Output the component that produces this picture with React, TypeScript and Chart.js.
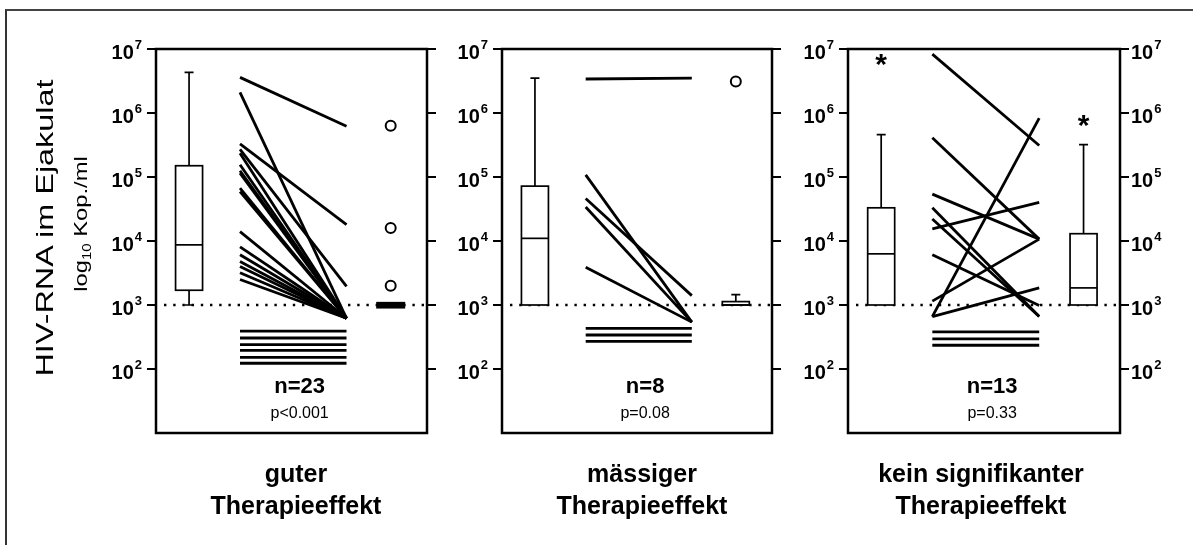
import React, { useEffect, useRef } from "react";
import { Chart, registerables } from "chart.js";

Chart.register(...registerables);

const WIDTH = 1193;
const HEIGHT = 545;

// ---- axis ----
const Y_MIN = 10;
const Y_MAX = 1e7;
const TICK_EXPONENTS = [2, 3, 4, 5, 6, 7];
const DETECTION_LIMIT = 1000;

// ---- texts ----
const Y_TITLE = "HIV-RNA im Ejakulat";
const Y_SUBTITLE_MAIN = "log";
const Y_SUBTITLE_SUB = "10";
const Y_SUBTITLE_REST = " Kop./ml";
const GROUP_LINE1 = ["guter", "mässiger", "kein signifikanter"];
const GROUP_LINE2 = ["Therapieeffekt", "Therapieeffekt", "Therapieeffekt"];
const N_LABELS = ["n=23", "n=8", "n=13"];
const P_LABELS = ["p<0.001", "p=0.08", "p=0.33"];

// ---- panel 1: guter Therapieeffekt (before -> after, copies/ml) ----
const GOOD_BEFORE = [3.6e6, 2.1e6, 3.3e5, 2.7e5, 2.35e5, 1.55e5, 1.25e5, 1.15e5, 6.7e4, 5.9e4, 1.4e4, 8.1e3, 6.1e3, 4.8e3, 4.0e3, 3.2e3, 2.5e3, 390, 305, 240, 195, 152, 123];
const GOOD_AFTER = [6.2e5, 620, 1.8e4, 1.95e3, 620, 620, 620, 620, 620, 620, 620, 620, 620, 620, 620, 620, 620, 390, 305, 240, 195, 152, 123];
// [lower whisker, q1, median, q3, upper whisker]
const GOOD_BOX_BEFORE = [1000, 1700, 8700, 1.5e5, 4.3e6];
const GOOD_BOX_AFTER = [880, 880, 1000, 1120, 1120];
const GOOD_OUTLIERS_AFTER = [6.3e5, 1.6e4, 2.0e3];

// ---- panel 2: mässiger Therapieeffekt ----
const MODERATE_BEFORE = [3.4e6, 1.08e5, 4.6e4, 3.4e4, 3.9e3, 430, 340, 270];
const MODERATE_AFTER = [3.5e6, 540, 1.4e3, 540, 540, 430, 340, 270];
const MODERATE_BOX_BEFORE = [1000, 1000, 1.1e4, 7.2e4, 3.5e6];
const MODERATE_BOX_AFTER = [1000, 1000, 1000, 1130, 1450];
const MODERATE_OUTLIERS_AFTER = [3.1e6];

// ---- panel 3: kein signifikanter Therapieeffekt ----
const NONE_BEFORE = [8.3e6, 4.1e5, 5.4e4, 1.55e4, 3.3e4, 2.2e4, 6.1e3, 1.15e3, 660, 660, 380, 295, 235];
const NONE_AFTER = [3.1e5, 1.07e4, 1.07e4, 4.0e4, 660, 660, 980, 1.07e4, 8.3e5, 1.85e3, 380, 295, 235];
const NONE_BOX_BEFORE = [1000, 1000, 6.3e3, 3.3e4, 4.6e5];
const NONE_BOX_AFTER = [1000, 1000, 1.85e3, 1.3e4, 3.2e5];
const NONE_EXTREMES_BEFORE = [7.6e6];
const NONE_EXTREMES_AFTER = [8.3e5];

// ---- layout (style only) ----
const LINE_X = [0.31, 0.703];
const BOX_X = [0.122, 0.866];
const TEXT_X = 0.53;
const FONT = "'Liberation Sans', Arial, Helvetica, sans-serif";
const AREA_TOP = 49;
const AREA_BOTTOM = 433;

type Panel = {
  before: number[];
  after: number[];
  boxBefore: number[];
  boxAfter: number[];
  outliersAfter: number[];
  extremesBefore: number[];
  extremesAfter: number[];
  filledAfter: boolean;
  left: number;
  right: number;
  labelsLeft: boolean;
  labelsRight: boolean;
  n: string;
  p: string;
  titleX: number;
};

const PANELS: Panel[] = [
  {
    before: GOOD_BEFORE, after: GOOD_AFTER, boxBefore: GOOD_BOX_BEFORE, boxAfter: GOOD_BOX_AFTER,
    outliersAfter: GOOD_OUTLIERS_AFTER, extremesBefore: [], extremesAfter: [], filledAfter: true,
    left: 156, right: 427, labelsLeft: true, labelsRight: false, n: N_LABELS[0], p: P_LABELS[0], titleX: 296,
  },
  {
    before: MODERATE_BEFORE, after: MODERATE_AFTER, boxBefore: MODERATE_BOX_BEFORE, boxAfter: MODERATE_BOX_AFTER,
    outliersAfter: MODERATE_OUTLIERS_AFTER, extremesBefore: [], extremesAfter: [], filledAfter: false,
    left: 502, right: 772, labelsLeft: true, labelsRight: false, n: N_LABELS[1], p: P_LABELS[1], titleX: 642,
  },
  {
    before: NONE_BEFORE, after: NONE_AFTER, boxBefore: NONE_BOX_BEFORE, boxAfter: NONE_BOX_AFTER,
    outliersAfter: [], extremesBefore: NONE_EXTREMES_BEFORE, extremesAfter: NONE_EXTREMES_AFTER, filledAfter: false,
    left: 848, right: 1120, labelsLeft: true, labelsRight: true, n: N_LABELS[2], p: P_LABELS[2], titleX: 981,
  },
];

function drawBox(ctx: CanvasRenderingContext2D, xs: any, ys: any, pos: number, stats: number[], filled: boolean) {
  const [lo, q1, med, q3, hi] = stats;
  const cx = xs.getPixelForValue(pos);
  const hw = 13.5;
  const cw = 4.5;
  const yLo = ys.getPixelForValue(lo);
  const yQ1 = ys.getPixelForValue(q1);
  const yMed = ys.getPixelForValue(med);
  const yQ3 = ys.getPixelForValue(q3);
  const yHi = ys.getPixelForValue(hi);
  ctx.save();
  ctx.strokeStyle = "#000";
  ctx.lineWidth = 1.7;
  if (hi > q3) {
    ctx.beginPath();
    ctx.moveTo(cx, yQ3);
    ctx.lineTo(cx, yHi);
    ctx.moveTo(cx - cw, yHi);
    ctx.lineTo(cx + cw, yHi);
    ctx.stroke();
  }
  if (lo < q1) {
    ctx.beginPath();
    ctx.moveTo(cx, yQ1);
    ctx.lineTo(cx, yLo);
    ctx.moveTo(cx - cw, yLo);
    ctx.lineTo(cx + cw, yLo);
    ctx.stroke();
  }
  if (filled) {
    ctx.fillStyle = "#000";
    ctx.fillRect(cx - hw - 1, yQ3, 2 * hw + 2, yQ1 - yQ3);
  } else {
    ctx.fillStyle = "#fff";
    ctx.fillRect(cx - hw, yQ3, 2 * hw, yQ1 - yQ3);
    ctx.strokeRect(cx - hw, yQ3, 2 * hw, yQ1 - yQ3);
    ctx.beginPath();
    ctx.moveTo(cx - hw, yMed);
    ctx.lineTo(cx + hw, yMed);
    ctx.stroke();
  }
  ctx.restore();
}

function drawPower(ctx: CanvasRenderingContext2D, exp: number, x: number, y: number, align: "left" | "right") {
  const big = `bold 20px ${FONT}`;
  const small = `bold 13px ${FONT}`;
  ctx.font = big;
  const wb = ctx.measureText("10").width;
  ctx.font = small;
  const ws = ctx.measureText(String(exp)).width;
  const total = wb + ws + 1;
  const x0 = align === "right" ? x - total : x;
  ctx.fillStyle = "#000";
  ctx.textAlign = "left";
  ctx.textBaseline = "alphabetic";
  ctx.font = big;
  ctx.fillText("10", x0, y + 10);
  ctx.font = small;
  ctx.fillText(String(exp), x0 + wb + 1, y);
}

const decorPlugin = {
  id: "panelDecor",
  beforeDatasetsDraw(chart: any) {
    const { ctx, chartArea: a, scales } = chart;
    const yl = scales.y.getPixelForValue(DETECTION_LIMIT);
    ctx.save();
    ctx.strokeStyle = "#000";
    ctx.lineWidth = 2.4;
    ctx.setLineDash([2.4, 6.8]);
    ctx.beginPath();
    ctx.moveTo(a.left + 8, yl);
    ctx.lineTo(a.right, yl);
    ctx.stroke();
    ctx.restore();
  },
  afterDatasetsDraw(chart: any, _args: any, opts: any) {
    const p: Panel = opts.panel;
    const { ctx, scales } = chart;
    const xs = scales.x;
    const ys = scales.y;

    drawBox(ctx, xs, ys, BOX_X[0], p.boxBefore, false);
    drawBox(ctx, xs, ys, BOX_X[1], p.boxAfter, p.filledAfter);

    ctx.save();
    ctx.fillStyle = "#000";
    ctx.font = `bold 30px ${FONT}`;
    ctx.textAlign = "center";
    ctx.textBaseline = "alphabetic";
    p.extremesBefore.forEach((v) => ctx.fillText("*", xs.getPixelForValue(BOX_X[0]), ys.getPixelForValue(v) + 17));
    p.extremesAfter.forEach((v) => ctx.fillText("*", xs.getPixelForValue(BOX_X[1]), ys.getPixelForValue(v) + 17));
    ctx.restore();

    ctx.save();
    ctx.fillStyle = "#000";
    ctx.textAlign = "center";
    ctx.textBaseline = "middle";
    const tx = xs.getPixelForValue(TEXT_X);
    ctx.font = `bold 22px ${FONT}`;
    ctx.fillText(p.n, tx, ys.getPixelForValue(Math.pow(10, 1.72)));
    ctx.font = `16px ${FONT}`;
    ctx.fillText(p.p, tx, ys.getPixelForValue(Math.pow(10, 1.3)));
    ctx.restore();
  },
  afterDraw(chart: any, _args: any, opts: any) {
    const p: Panel = opts.panel;
    const { ctx, chartArea: a, scales } = chart;
    const ys = scales.y;
    ctx.save();
    ctx.strokeStyle = "#000";
    ctx.lineWidth = 2.5;
    ctx.strokeRect(a.left, a.top, a.right - a.left, a.bottom - a.top);
    ctx.lineWidth = 2;
    TICK_EXPONENTS.forEach((e) => {
      const y = ys.getPixelForValue(Math.pow(10, e));
      ctx.beginPath();
      ctx.moveTo(a.left - 9, y);
      ctx.lineTo(a.left, y);
      ctx.moveTo(a.right, y);
      ctx.lineTo(a.right + 9, y);
      ctx.stroke();
      if (p.labelsLeft) drawPower(ctx, e, a.left - 14, y, "right");
      if (p.labelsRight) drawPower(ctx, e, a.right + 11, y, "left");
    });
    ctx.restore();
  },
};

function buildConfig(p: Panel): any {
  const lineSets = p.before.map((b, i) => ({
    type: "line",
    data: [
      { x: LINE_X[0], y: b },
      { x: LINE_X[1], y: p.after[i] },
    ],
    borderColor: "#000",
    borderWidth: 2.8,
    pointRadius: 0,
    fill: false,
    tension: 0,
  }));
  const outlierSet = {
    type: "scatter",
    data: p.outliersAfter.map((v) => ({ x: BOX_X[1], y: v })),
    pointStyle: "circle",
    pointRadius: 5,
    borderWidth: 2,
    borderColor: "#000",
    backgroundColor: "#fff",
  };
  return {
    type: "line",
    data: { datasets: [...lineSets, outlierSet] },
    options: {
      animation: false,
      responsive: false,
      maintainAspectRatio: false,
      events: [],
      layout: {
        padding: { left: p.left, right: WIDTH - p.right, top: AREA_TOP, bottom: HEIGHT - AREA_BOTTOM },
      },
      scales: {
        x: { type: "linear", min: 0, max: 1, display: false },
        y: { type: "logarithmic", min: Y_MIN, max: Y_MAX, display: false },
      },
      plugins: {
        legend: { display: false },
        tooltip: { enabled: false },
        panelDecor: { panel: p },
      },
    },
    plugins: [decorPlugin],
  };
}

export default function App() {
  const r0 = useRef<HTMLCanvasElement>(null);
  const r1 = useRef<HTMLCanvasElement>(null);
  const r2 = useRef<HTMLCanvasElement>(null);
  const refs = [r0, r1, r2];

  useEffect(() => {
    const charts = PANELS.map((p, i) => new Chart(refs[i].current as HTMLCanvasElement, buildConfig(p)));
    return () => charts.forEach((c) => c.destroy());
  }, []);

  return (
    <div style={{ position: "absolute", left: 0, top: 0, width: WIDTH, height: HEIGHT, background: "#fff", overflow: "hidden", fontFamily: FONT }}>
      <div style={{ position: "absolute", left: 5, top: 9, right: -4, bottom: -4, borderLeft: "2px solid #333", borderTop: "2px solid #444" }} />
      {PANELS.map((_, i) => (
        <canvas
          key={i}
          ref={refs[i]}
          width={WIDTH}
          height={HEIGHT}
          style={{ position: "absolute", left: 0, top: 0, width: WIDTH, height: HEIGHT }}
        />
      ))}
      <div style={{ position: "absolute", left: 45, top: 228, width: 0, height: 0 }}>
        <span style={{ position: "absolute", left: 0, top: 0, whiteSpace: "nowrap", fontSize: 24, color: "#000", transform: "translate(-50%, -50%) rotate(-90deg) scaleX(1.35)" }}>
          {Y_TITLE}
        </span>
      </div>
      <div style={{ position: "absolute", left: 82, top: 224, width: 0, height: 0 }}>
        <span style={{ position: "absolute", left: 0, top: 0, whiteSpace: "nowrap", fontSize: 19, color: "#000", transform: "translate(-50%, -50%) rotate(-90deg) scaleX(1.25)" }}>
          {Y_SUBTITLE_MAIN}
          <sub style={{ fontSize: 12 }}>{Y_SUBTITLE_SUB}</sub>
          {Y_SUBTITLE_REST}
        </span>
      </div>
      {PANELS.map((p, i) => (
        <div
          key={"t" + i}
          style={{ position: "absolute", left: p.titleX, top: 457, transform: "translateX(-50%)", textAlign: "center", whiteSpace: "nowrap", fontWeight: "bold", fontSize: 25, lineHeight: "32px", color: "#000" }}
        >
          <div>{GROUP_LINE1[i]}</div>
          <div>{GROUP_LINE2[i]}</div>
        </div>
      ))}
    </div>
  );
}
